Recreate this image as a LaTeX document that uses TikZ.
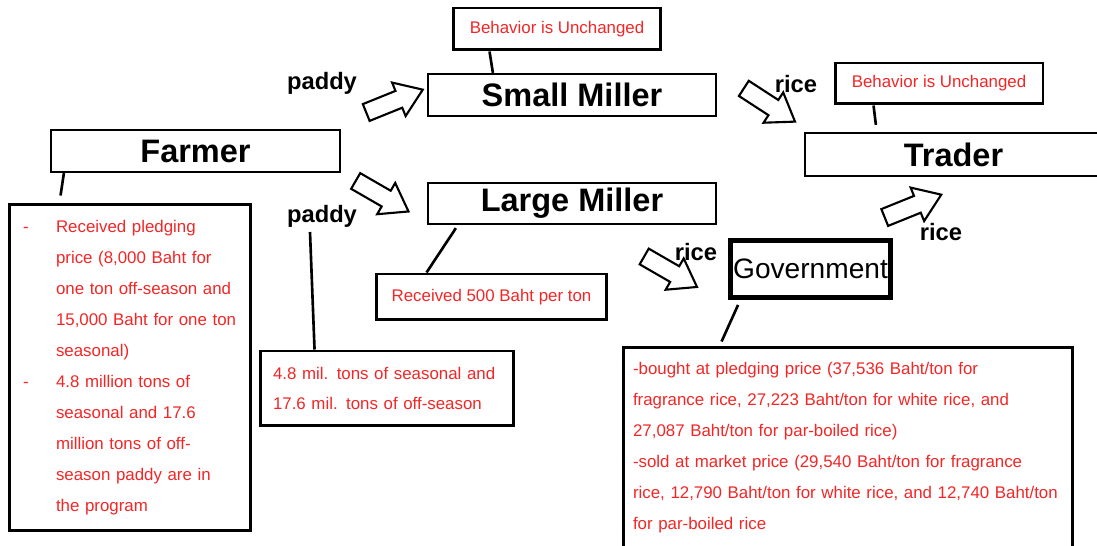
\documentclass[tikz,border=0pt]{standalone}
\usepackage{fontspec}
\setmainfont{Liberation Sans}
\usepackage{tikz}
\usetikzlibrary{arrows,shapes,positioning,calc}
\usepackage{xcolor}
\definecolor{notered}{RGB}{242,38,38}
\tikzstyle{actor} = [rectangle, draw=black, line width=1.3pt, font=\bfseries\fontsize{18.5}{20}\selectfont, inner sep=0pt]
\tikzstyle{note} = [rectangle, draw=black, line width=1.7pt, text=notered, font=\fontsize{9.6}{17.6}\selectfont, inner ysep=0pt, inner xsep=0.26cm, align=left]
\tikzstyle{flow} = [single arrow, draw=black, line width=1.2pt, fill=white, minimum height=1.22cm, single arrow head extend=0.18cm, single arrow tip angle=70, inner xsep=0pt, inner ysep=0.16cm]
\tikzstyle{flowlabel} = [font=\bfseries\fontsize{13.5}{15}\selectfont, inner sep=1pt]
\tikzstyle{link} = [line width=1.5pt]
\newcommand{\noteindent}{\hspace*{0.66cm}}

\begin{document}
\begin{tikzpicture}[x=0.02cm, y=-0.02cm]
\useasboundingbox (0,0) rectangle (1097,546);

% Actors in the rice chain
\node (farmer) [actor, minimum width=5.78cm, minimum height=0.84cm] at (195.5,151) {Farmer};
\node (smallm) [actor, minimum width=5.76cm, minimum height=0.84cm] at (572,95) {Small Miller};
\node (largem) [actor, minimum width=5.76cm, minimum height=0.82cm] at (572,203.5) {Large Miller};
\node (trader) [actor, minimum width=5.94cm, minimum height=0.86cm] at (953.5,154.5) {Trader};
\node (gov) [draw=black, line width=2.8pt, minimum width=3.2cm, minimum height=1.14cm, font=\fontsize{16}{18}\selectfont, inner sep=0pt] at (810.5,269) {Government};

% Notes
\node (behav1) [note, minimum width=4.16cm, minimum height=0.84cm, inner xsep=0pt] at (557,29) {Behavior is Unchanged};
\node (behav2) [note, minimum width=4.16cm, minimum height=0.82cm, inner xsep=0pt] at (939,83.5) {Behavior is Unchanged};
\node (farmnote) [note, text width=4.28cm, inner xsep=0.28cm, minimum height=6.54cm] at (130,367.5) {%
\makebox[0.66cm][l]{-}Received pledging\\
\noteindent price (8,000 Baht for\\
\noteindent one ton off-season and\\
\noteindent 15,000 Baht for one ton\\
\noteindent seasonal)\\
\makebox[0.66cm][l]{-}4.8 million tons of\\
\noteindent seasonal and 17.6\\
\noteindent million tons of off-\\
\noteindent season paddy are in\\
\noteindent the program};
\node (paddynote) [note, text width=4.56cm, minimum height=1.5cm] at (387,388.5) {4.8 mil. tons of seasonal and\\17.6 mil. tons of off-season};
\node (lmnote) [note, minimum width=4.62cm, minimum height=0.92cm, inner xsep=0pt] at (491.5,297) {Received 500 Baht per ton};
\node (govnote) [note, text width=8.6cm, inner xsep=0.2cm, minimum height=4.02cm] at (848,447.5) {%
-bought at pledging price (37,536 Baht/ton for\\
fragrance rice, 27,223 Baht/ton for white rice, and\\
27,087 Baht/ton for par-boiled rice)\\
-sold at market price (29,540 Baht/ton for fragrance\\
rice, 12,790 Baht/ton for white rice, and 12,740 Baht/ton\\
for par-boiled rice};

% Flows of paddy and rice
\node (padarr1) [flow, rotate=22] at (388.5,103.5) {};
\node (padarr2) [flow, rotate=-30] at (376.5,193) {};
\node (ricearr1) [flow, rotate=-33] at (764,101.5) {};
\node (ricearr2) [flow, rotate=22] at (907,208.5) {};
\node (ricearr3) [flow, rotate=-30] at (665,268.5) {};
\node (padlab1) [flowlabel] at (322,83) {paddy};
\node (padlab2) [flowlabel] at (322,216) {paddy};
\node (ricelab1) [flowlabel] at (796,84) {rice};
\node (ricelab2) [flowlabel] at (941,232) {rice};
\node (ricelab3) [flowlabel] at (696,252) {rice};

% Callout lines
\coordinate (padtop) at (310,232);
\draw[link] ($(farmer.south west)+(14,0)$) -- ($(farmnote.north west)+(53,-7)$);
\draw[link] ($(behav1.south west)+(38,0)$) -- ($(smallm.north west)+(66,0)$);
\draw[link] ($(behav2.south west)+(40,0)$) -- ($(trader.north west)+(72,-7)$);
\draw[link] ($(largem.south west)+(29,3)$) -- ($(lmnote.north west)+(52,0)$);
\draw[link] (padtop) -- ($(paddynote.north west)+(56,0)$);
\draw[link] ($(gov.south west)+(10,5)$) -- ($(govnote.north west)+(100,-4)$);
\end{tikzpicture}
\end{document}
